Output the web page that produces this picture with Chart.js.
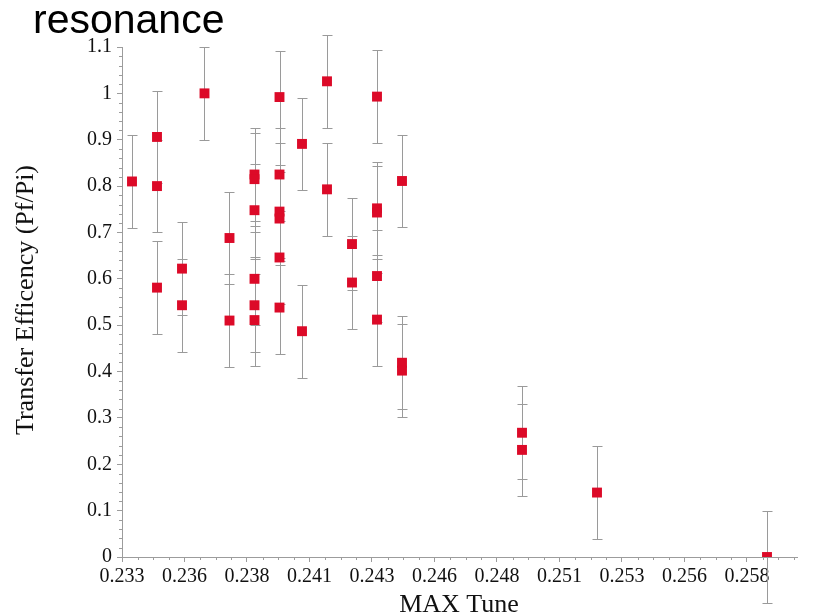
<!DOCTYPE html>
<html><head><meta charset="utf-8">
<script src="https://cdn.jsdelivr.net/npm/chart.js@4/dist/chart.umd.min.js"></script>
<style>html,body{margin:0;padding:0;background:#fff;}#wrap{position:relative;width:835px;height:615px;}</style>
</head><body><div id="wrap"><canvas id="c" width="835" height="615"></canvas></div>
<script>
const titleText = 'resonance';
const xTitle = 'MAX Tune';
const yTitle = 'Transfer Efficency (Pf/Pi)';

const maxTune = [
  0.2334,
  0.2344, 0.2344, 0.2344,
  0.2354, 0.2354,
  0.2363,
  0.2373, 0.2373,
  0.2383, 0.2383, 0.2383, 0.2383, 0.2383, 0.2383,
  0.2393, 0.2393, 0.2393, 0.2393, 0.2393, 0.2393,
  0.2402, 0.2402,
  0.2412, 0.2412,
  0.2422, 0.2422,
  0.2432, 0.2432, 0.2432, 0.2432, 0.2432,
  0.2442, 0.2442, 0.2442,
  0.2490, 0.2490,
  0.2520,
  0.2588
];
const efficiency = [
  0.81,
  0.906, 0.80, 0.581,
  0.622, 0.543,
  1.0,
  0.688, 0.51,
  0.825, 0.815, 0.748, 0.60, 0.543, 0.511,
  0.992, 0.825, 0.745, 0.73, 0.646, 0.538,
  0.891, 0.487,
  1.026, 0.793,
  0.675, 0.592,
  0.993, 0.752, 0.743, 0.606, 0.512,
  0.811, 0.419, 0.402,
  0.268, 0.231,
  0.139,
  0.0
];
const errorHalf = [
  0.1,
  0.1, 0.1, 0.1,
  0.1, 0.1,
  0.1,
  0.1, 0.1,
  0.1, 0.1, 0.1, 0.1, 0.1, 0.1,
  0.1, 0.1, 0.1, 0.1, 0.1, 0.1,
  0.1, 0.1,
  0.1, 0.1,
  0.1, 0.1,
  0.1, 0.1, 0.1, 0.1, 0.1,
  0.1, 0.1, 0.1,
  0.1, 0.1,
  0.1,
  0.1
];

const xTickValues = [0.233, 0.2355, 0.238, 0.2405, 0.243, 0.2455, 0.248, 0.2505, 0.253, 0.2555, 0.258];
const xTickLabels = ['0.233','0.236','0.238','0.241','0.243','0.246','0.248','0.251','0.253','0.256','0.258'];
const yTickValues = [0, 0.1, 0.2, 0.3, 0.4, 0.5, 0.6, 0.7, 0.8, 0.9, 1.0, 1.1];
const yTickLabels = ['0','0.1','0.2','0.3','0.4','0.5','0.6','0.7','0.8','0.9','1','1.1'];

const AXIS_COLOR = '#9c9c9c';
const ERR_COLOR = '#9a9a9a';
const MARK_COLOR = '#dc0a28';
const SERIF = '"Liberation Serif", "DejaVu Serif", serif';

const errorBars = {
  id: 'errorBars',
  beforeDatasetsDraw(chart) {
    const {ctx, scales: {x, y}} = chart;
    ctx.save();
    ctx.strokeStyle = ERR_COLOR;
    ctx.lineWidth = 1;
    maxTune.forEach((xv, i) => {
      const px = Math.round(x.getPixelForValue(xv)) + 0.5;
      const top = Math.round(y.getPixelForValue(efficiency[i] + errorHalf[i])) + 0.5;
      const bot = Math.round(y.getPixelForValue(efficiency[i] - errorHalf[i])) + 0.5;
      ctx.beginPath();
      ctx.moveTo(px, top); ctx.lineTo(px, bot);
      ctx.moveTo(px - 5, top); ctx.lineTo(px + 5, top);
      ctx.moveTo(px - 5, bot); ctx.lineTo(px + 5, bot);
      ctx.stroke();
    });
    ctx.restore();
  }
};

const minorTicks = {
  id: 'minorTicks',
  afterDraw(chart) {
    const {ctx, scales: {x, y}, chartArea} = chart;
    ctx.save();
    ctx.strokeStyle = AXIS_COLOR;
    ctx.lineWidth = 1;
    ctx.beginPath();
    for (let k = 0; ; k++) {
      const v = x.min + k * 0.000625;
      if (v > x.max + 1e-9) break;
      if (k % 4 === 0) continue;
      const px = Math.round(x.getPixelForValue(v)) + 0.5;
      ctx.moveTo(px, chartArea.bottom); ctx.lineTo(px, chartArea.bottom + 3);
    }
    for (let k = 0; ; k++) {
      const v = y.min + k * 0.02;
      if (v > y.max + 1e-9) break;
      if (k % 5 === 0) continue;
      const py = Math.round(y.getPixelForValue(v)) + 0.5;
      ctx.moveTo(chartArea.left, py); ctx.lineTo(chartArea.left - 3, py);
    }
    ctx.stroke();
    ctx.restore();
  }
};

const texts = {
  id: 'texts',
  afterDraw(chart) {
    const ctx = chart.ctx;
    ctx.save();
    ctx.fillStyle = '#000';
    ctx.font = '41px "Liberation Sans", Arial, sans-serif';
    ctx.textAlign = 'left';
    ctx.textBaseline = 'alphabetic';
    ctx.fillText(titleText, 33, 33);

    ctx.fillStyle = '#111';
    ctx.font = '26px ' + SERIF;
    ctx.textAlign = 'center';
    ctx.fillText(xTitle, 459, 612);

    ctx.translate(33, 300);
    ctx.rotate(-Math.PI / 2);
    ctx.fillText(yTitle, 0, 0);
    ctx.restore();
  }
};

const points = maxTune.map((xv, i) => ({x: xv, y: efficiency[i]}));

new Chart(document.getElementById('c'), {
  type: 'scatter',
  data: {
    datasets: [{
      data: points,
      pointStyle: 'rect',
      pointRadius: 7,
      pointHoverRadius: 7,
      backgroundColor: MARK_COLOR,
      borderWidth: 0,
      clip: 0
    }]
  },
  options: {
    responsive: false,
    animation: false,
    devicePixelRatio: 1,
    layout: {padding: {left: 0, top: 47, right: 38, bottom: 0}},
    plugins: {legend: {display: false}, tooltip: {enabled: false}, title: {display: false}},
    scales: {
      x: {
        type: 'linear', min: 0.233, max: 0.26,
        afterFit(s) { s.height = 58; },
        afterBuildTicks(s) { s.ticks = xTickValues.map(v => ({value: v})); },
        ticks: {
          callback: (v, i) => xTickLabels[i],
          font: {family: SERIF, size: 20}, color: '#111',
          padding: 3, maxRotation: 0, autoSkip: false
        },
        grid: {drawOnChartArea: false, tickLength: 5, color: AXIS_COLOR},
        border: {color: AXIS_COLOR}
      },
      y: {
        type: 'linear', min: 0, max: 1.1,
        afterFit(s) { s.width = 122; },
        afterBuildTicks(s) { s.ticks = yTickValues.map(v => ({value: v})); },
        ticks: {
          callback: (v, i) => yTickLabels[i],
          font: {family: SERIF, size: 20}, color: '#111',
          padding: 5, autoSkip: false
        },
        grid: {drawOnChartArea: false, tickLength: 5, color: AXIS_COLOR},
        border: {color: AXIS_COLOR}
      }
    }
  },
  plugins: [errorBars, minorTicks, texts]
});
</script>
</body></html>
